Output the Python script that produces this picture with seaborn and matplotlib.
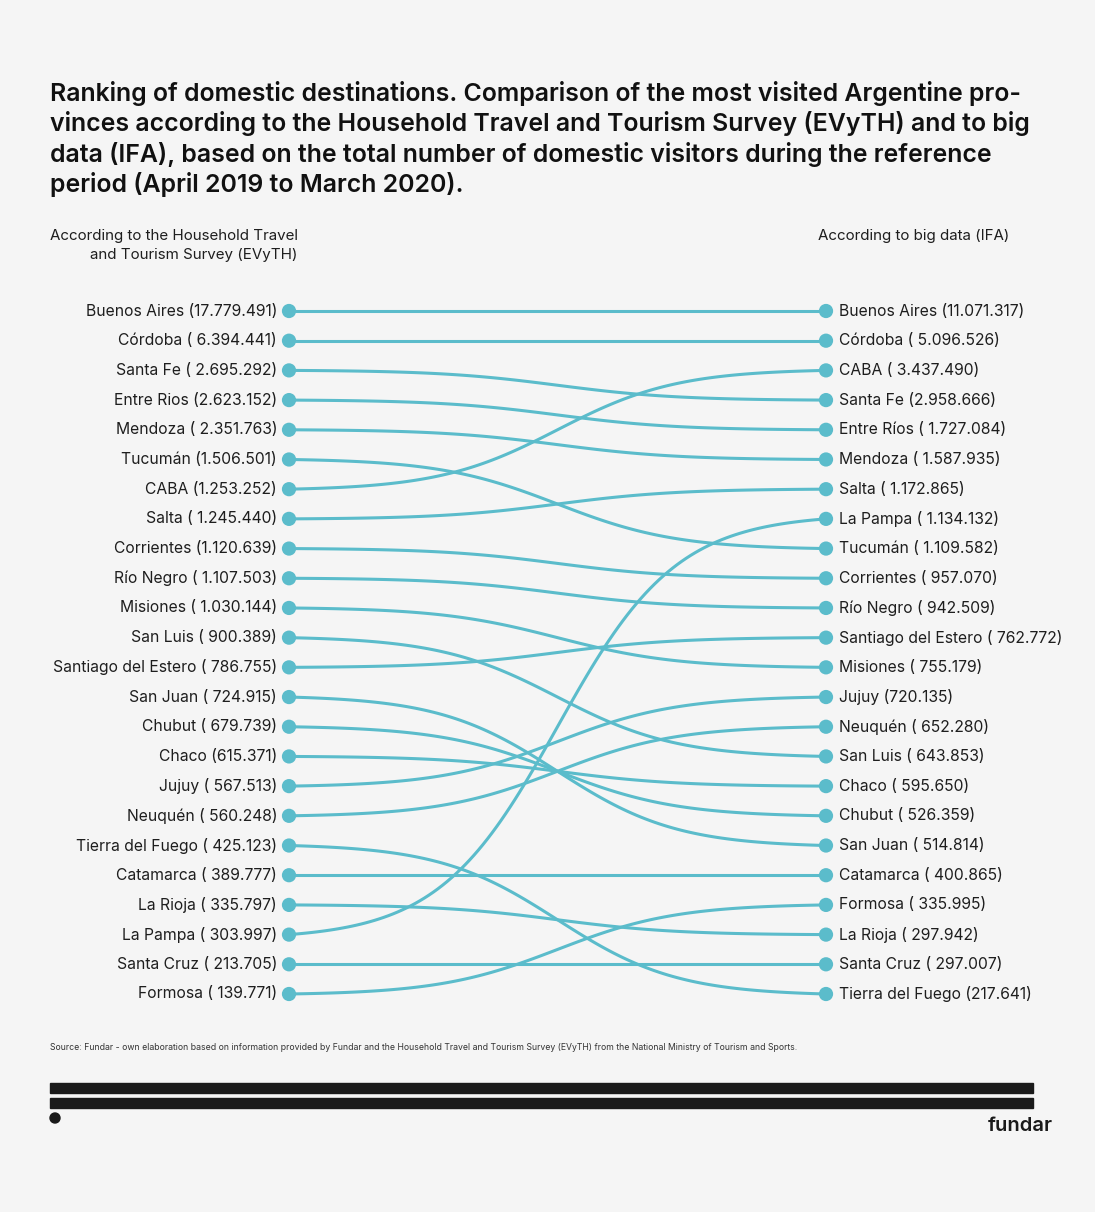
import unicodedata
import numpy as np
import pandas as pd
import seaborn as sns
import matplotlib.pyplot as plt
from matplotlib.patches import Rectangle, Ellipse

# EVyTH ranking (left column)
left_names = ["Buenos Aires", "Córdoba", "Santa Fe", "Entre Rios", "Mendoza", "Tucumán",
              "CABA", "Salta", "Corrientes", "Río Negro", "Misiones", "San Luis",
              "Santiago del Estero", "San Juan", "Chubut", "Chaco", "Jujuy", "Neuquén",
              "Tierra del Fuego", "Catamarca", "La Rioja", "La Pampa", "Santa Cruz", "Formosa"]
left_values = [17779491, 6394441, 2695292, 2623152, 2351763, 1506501, 1253252, 1245440,
               1120639, 1107503, 1030144, 900389, 786755, 724915, 679739, 615371, 567513,
               560248, 425123, 389777, 335797, 303997, 213705, 139771]

# big data (IFA) ranking (right column)
right_names = ["Buenos Aires", "Córdoba", "CABA", "Santa Fe", "Entre Ríos", "Mendoza",
               "Salta", "La Pampa", "Tucumán", "Corrientes", "Río Negro",
               "Santiago del Estero", "Misiones", "Jujuy", "Neuquén", "San Luis", "Chaco",
               "Chubut", "San Juan", "Catamarca", "Formosa", "La Rioja", "Santa Cruz",
               "Tierra del Fuego"]
right_values = [11071317, 5096526, 3437490, 2958666, 1727084, 1587935, 1172865, 1134132,
                1109582, 957070, 942509, 762772, 755179, 720135, 652280, 643853, 595650,
                526359, 514814, 400865, 335995, 297942, 297007, 217641]

# labels written without the blank after "("
left_tight = {"Buenos Aires", "Entre Rios", "Tucumán", "CABA", "Corrientes", "Chaco"}
right_tight = {"Buenos Aires", "Santa Fe", "Jujuy", "Tierra del Fuego"}

title = ("Ranking of domestic destinations. Comparison of the most visited Argentine pro-\n"
         "vinces according to the Household Travel and Tourism Survey (EVyTH) and to big\n"
         "data (IFA), based on the total number of domestic visitors during the reference\n"
         "period (April 2019 to March 2020).")
source = ("Source: Fundar - own elaboration based on information provided by Fundar and the "
          "Household Travel and Tourism Survey (EVyTH) from the National Ministry of Tourism and Sports.")

BG = "#f5f5f5"
TEAL = "#5bbccb"
INK = "#1e1e1e"


def key(s):
    s = unicodedata.normalize("NFKD", s)
    return "".join(c for c in s if not unicodedata.combining(c)).lower()


def fmt(v):
    return f"{v:,}".replace(",", ".")


def label(name, v, tight):
    return f"{name} ({fmt(v)})" if name in tight else f"{name} ( {fmt(v)})"


sns.set_theme(style="white")
plt.rcParams["font.family"] = ["Inter", "DejaVu Sans"]

fig = plt.figure(figsize=(10.95, 12.12), dpi=100, facecolor=BG)
W, H = 1095, 1212

# build curve table
right_rank = {key(n): i for i, n in enumerate(right_names)}
t = np.linspace(0, 1, 120)
k = 9.0
s = 1 / (1 + np.exp(-k * (t - 0.5)))
s = (s - s[0]) / (s[-1] - s[0])
rows = []
for i, n in enumerate(left_names):
    j = right_rank[key(n)]
    for tt, ss in zip(t, s):
        rows.append({"prov": n, "x": tt, "y": i + (j - i) * ss})
curves = pd.DataFrame(rows)
dots = pd.DataFrame({"x": [0.0] * len(left_names) + [1.0] * len(right_names),
                     "y": list(range(len(left_names))) + list(range(len(right_names)))})

x0, x1 = 289, 826
y0, y1 = 311, 994
step = (y1 - y0) / (len(left_names) - 1)
ax = fig.add_axes([x0 / W, 1 - (y1 + step / 2) / H, (x1 - x0) / W, (y1 - y0 + step) / H])
ax.set_facecolor("none")
sns.lineplot(data=curves, x="x", y="y", units="prov", estimator=None, sort=False,
             color=TEAL, lw=2.2, ax=ax, legend=False)
sns.scatterplot(data=dots, x="x", y="y", color=TEAL, s=105, edgecolor="none", ax=ax,
                zorder=3, clip_on=False)
ax.set_xlim(0, 1)
ax.set_ylim(len(left_names) - 0.5, -0.5)
ax.axis("off")
for l in ax.lines:
    l.set_clip_on(False)

for i, (n, v) in enumerate(zip(left_names, left_values)):
    ax.text(-0.022, i, label(n, v, left_tight), ha="right", va="center",
            fontsize=11.3, color=INK)
for i, (n, v) in enumerate(zip(right_names, right_values)):
    ax.text(1.024, i, label(n, v, right_tight), ha="left", va="center",
            fontsize=11.3, color=INK)

# texts in pixel space
fig.text(50 / W, 1 - 81 / H, title, ha="left", va="top", fontsize=17.9,
         fontweight="semibold", color="#111111", linespacing=1.27)
fig.text(298 / W, 1 - 229 / H, "According to the Household Travel\nand Tourism Survey (EVyTH)",
         ha="right", va="top", fontsize=10.9, color=INK, linespacing=1.45, multialignment="right")
fig.text(818 / W, 1 - 229 / H, "According to big data (IFA)", ha="left", va="top",
         fontsize=10.9, color=INK)
fig.text(50 / W, 1 - 1048 / H, source, ha="left", va="center", fontsize=6.25, color="#333333")

# footer bars and logo
fig.patches.append(Rectangle((50 / W, 1 - 1093 / H), 983 / W, 10 / H,
                             transform=fig.transFigure, color="#1a1a1a"))
fig.patches.append(Rectangle((50 / W, 1 - 1108 / H), 983 / W, 10 / H,
                             transform=fig.transFigure, color="#1a1a1a"))
fig.patches.append(Ellipse((55 / W, 1 - 1118 / H), 10 / W, 10 / H,
                           transform=fig.transFigure, color="#1a1a1a"))
fig.text(1053 / W, 1 - 1126 / H, "fundar", ha="right", va="center", fontsize=14.5,
         fontweight="semibold", color="#1a1a1a")

fig.savefig("out.png", dpi=100, facecolor=BG)
